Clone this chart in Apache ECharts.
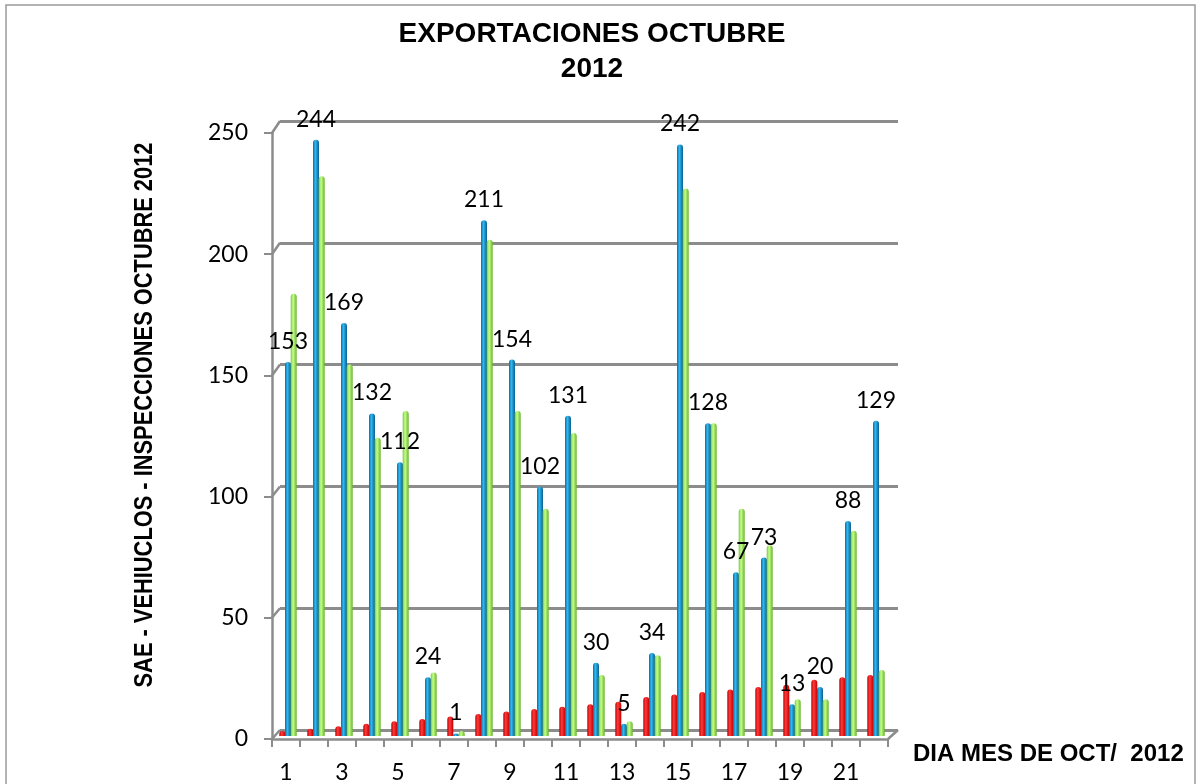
<!DOCTYPE html>
<html>
<head>
<meta charset="utf-8">
<script src="https://cdn.jsdelivr.net/npm/echarts@6/dist/echarts.min.js"></script>
<style>
  html, body { margin: 0; padding: 0; background: #fff; }
  #chart { width: 1201px; height: 784px; }
</style>
</head>
<body>
<div id="chart"></div>
<script>
// dias del mes (eje x)
const days = ['1','2','3','4','5','6','7','8','9','10','11','12','13','14','15','16','17','18','19','20','21','22'];
// series
const redValues   = [2, 3, 4, 5, 6, 7, 8, 9, 10, 11, 12, 13, 14, 16, 17, 18, 19, 20, 21, 23, 24, 25];
const blueValues  = [153, 244, 169, 132, 112, 24, 1, 211, 154, 102, 131, 30, 5, 34, 242, 128, 67, 73, 13, 20, 88, 129];
const greenValues = [181, 229, 152, 122, 133, 26, 2, 203, 133, 93, 124, 25, 6, 33, 224, 128, 93, 78, 15, 15, 84, 27];
// marcas del eje y
const yTicks = [0, 50, 100, 150, 200, 250];

const gray = '#8c8c8c';
const yMin = yTicks[0], yMax = yTicks[yTicks.length - 1], yStep = yTicks[1] - yTicks[0];

// degradado horizontal para imitar el cilindro
function cyl (c0, c1, c2) {
  return new echarts.graphic.LinearGradient(0, 0, 1, 0, [
    { offset: 0, color: c0 },
    { offset: 0.4, color: c1 },
    { offset: 1, color: c2 }
  ]);
}

let myChart = echarts.init(document.getElementById('chart'));

let option = {
  animation: false,
  title: {
    text: 'EXPORTACIONES OCTUBRE\n2012',
    left: 587,
    top: 12,
    textAlign: 'center',
    textStyle: {
      fontFamily: 'Liberation Sans',
      fontWeight: 'bold',
      fontSize: 28,
      lineHeight: 35,
      color: '#000'
    }
  },
  grid: [
    // pared del fondo
    { left: 280, right: 303, top: 121, bottom: 54 },
    // ejes del frente
    { left: 272, right: 313, top: 133, bottom: 44 },
    // barras
    { left: 274, right: 311, top: 125, bottom: 48 }
  ],
  xAxis: [
    { gridIndex: 0, type: 'category', data: days, show: false },
    {
      gridIndex: 1,
      type: 'category',
      data: days,
      name: 'DIA MES DE OCT/  2012',
      nameLocation: 'end',
      nameGap: 25,
      nameTextStyle: {
        fontFamily: 'Liberation Sans',
        fontWeight: 'bold',
        fontSize: 24,
        color: '#000',
        verticalAlign: 'top',
        padding: [3, 0, 0, 0]
      },
      axisLine: { lineStyle: { color: gray, width: 2.5 } },
      axisTick: { show: true, interval: 0, length: 8, lineStyle: { color: gray, width: 2 } },
      axisLabel: {
        interval: 1,
        margin: 22,
        fontFamily: 'Lato',
        fontSize: 23,
        color: '#000'
      }
    },
    { gridIndex: 2, type: 'category', data: days, show: false }
  ],
  yAxis: [
    {
      gridIndex: 0, type: 'value', min: yMin, max: yMax, interval: yStep,
      axisLabel: { show: false }, axisLine: { show: false }, axisTick: { show: false },
      splitLine: { show: true, lineStyle: { color: gray, width: 3 } }
    },
    {
      gridIndex: 1, type: 'value', min: yMin, max: yMax, interval: yStep,
      axisLine: { show: true, lineStyle: { color: gray, width: 2.5 } },
      axisTick: { show: true, length: 8, lineStyle: { color: gray, width: 2 } },
      axisLabel: { margin: 24, fontFamily: 'Lato', fontSize: 23, color: '#000' },
      splitLine: { show: false }
    },
    { gridIndex: 2, type: 'value', min: yMin, max: yMax, show: false, splitLine: { show: false } }
  ],
  series: [
    {
      name: 'Serie 1',
      type: 'bar',
      xAxisIndex: 2,
      yAxisIndex: 2,
      data: redValues,
      barWidth: 6,
      barGap: '-5%',
      itemStyle: { color: cyl('#b80000', '#ff3a3a', '#c40000'), borderRadius: [3, 3, 0, 0] }
    },
    {
      name: 'Serie 2',
      type: 'bar',
      xAxisIndex: 2,
      yAxisIndex: 2,
      data: blueValues,
      barWidth: 6,
      barGap: '-5%',
      itemStyle: { color: cyl('#0a6ea6', '#2fb8f0', '#0a5f92'), borderRadius: [3, 3, 0, 0] },
      label: {
        show: true,
        position: 'top',
        distance: 9,
        fontFamily: 'Lato',
        fontSize: 23,
        color: '#000'
      }
    },
    {
      name: 'Serie 3',
      type: 'bar',
      xAxisIndex: 2,
      yAxisIndex: 2,
      data: greenValues,
      barWidth: 6,
      barGap: '-5%',
      itemStyle: { color: cyl('#76c83a', '#c6ff8c', '#66b42c'), borderRadius: [3, 3, 0, 0] }
    }
  ]
};

myChart.setOption(option);

// uniones 3D entre el eje del frente y la pared del fondo
let extras = [];
yTicks.forEach(function (v) {
  let yf = myChart.convertToPixel({ yAxisIndex: 1 }, v);
  let yb = myChart.convertToPixel({ yAxisIndex: 0 }, v);
  extras.push({
    type: 'line',
    shape: { x1: 272, y1: yf, x2: 280, y2: yb },
    style: { stroke: gray, lineWidth: 2.5 }
  });
});
let y0f = myChart.convertToPixel({ yAxisIndex: 1 }, 0);
let y0b = myChart.convertToPixel({ yAxisIndex: 0 }, 0);
extras.push({
  type: 'line',
  shape: { x1: 888, y1: y0f, x2: 898, y2: y0b },
  style: { stroke: gray, lineWidth: 2.5 }
});
// borde exterior
extras.push({
  type: 'rect',
  shape: { x: 6, y: 5, width: 1189, height: 800 },
  style: { fill: 'none', stroke: '#9a9a9a', lineWidth: 1.5 },
  silent: true
});
// titulo del eje y (letra estrecha)
extras.push({
  type: 'text',
  x: 145,
  y: 415,
  rotation: Math.PI / 2,
  scaleX: 0.84,
  style: {
    text: 'SAE - VEHIUCLOS - INSPECCIONES OCTUBRE 2012',
    fontFamily: 'Liberation Sans',
    fontWeight: 'bold',
    fontSize: 26,
    fill: '#000',
    align: 'center',
    verticalAlign: 'middle',
    textAlign: 'center',
    textVerticalAlign: 'middle'
  }
});
myChart.setOption({ graphic: extras });
</script>
</body>
</html>
